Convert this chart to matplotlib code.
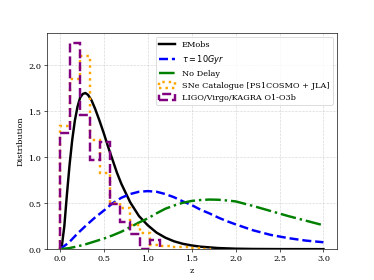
import numpy as np
import matplotlib
matplotlib.use("Agg")
import matplotlib.pyplot as plt

plt.rcParams['font.family'] = ['DejaVu Serif']

# Curves
z_em = [0, 0.02, 0.05, 0.08, 0.11, 0.14, 0.17, 0.2, 0.23, 0.26, 0.29, 0.32, 0.36, 0.4, 0.45,
        0.5, 0.55, 0.6, 0.65, 0.7, 0.8, 0.9, 1.0, 1.1, 1.2, 1.3, 1.4, 1.5, 1.6, 1.8, 2.0,
        2.2, 2.5, 3.0]
emobs = [0, 0.02, 0.25, 0.6, 0.92, 1.19, 1.40, 1.55, 1.65, 1.69, 1.70, 1.68, 1.62, 1.53, 1.40,
         1.26, 1.11, 0.97, 0.83, 0.71, 0.51, 0.36, 0.26, 0.18, 0.125, 0.085, 0.058, 0.04, 0.027,
         0.012, 0.005, 0.002, 0.0005, 0.0]

z_grid = [0, 0.1, 0.2, 0.3, 0.4, 0.5, 0.6, 0.7, 0.8, 0.9, 1.0, 1.1, 1.2, 1.3, 1.4, 1.5,
          1.6, 1.7, 1.8, 1.9, 2.0, 2.2, 2.4, 2.6, 2.8, 3.0]
tau10 = [0, 0.07, 0.17, 0.26, 0.345, 0.42, 0.50, 0.56, 0.60, 0.625, 0.632, 0.625, 0.60,
         0.565, 0.52, 0.48, 0.43, 0.39, 0.345, 0.305, 0.27, 0.205, 0.155, 0.12, 0.093, 0.075]
nodelay = [0, 0.01, 0.03, 0.055, 0.085, 0.115, 0.15, 0.19, 0.24, 0.29, 0.335, 0.39, 0.44,
           0.475, 0.505, 0.525, 0.535, 0.54, 0.538, 0.53, 0.52, 0.47, 0.415, 0.36, 0.31, 0.26]

# Histograms (bin edges and densities)
sne_edges = [0.0, 0.114, 0.229, 0.343, 0.457, 0.572, 0.686, 0.800, 0.915, 1.030, 1.144,
             1.258, 1.373, 1.487, 1.602, 1.716]
sne_density = [1.34, 1.85, 2.10, 1.19, 0.83, 0.50, 0.45, 0.26, 0.18, 0.05, 0.03, 0.02,
               0.02, 0.01, 0.005]
gw_edges = [0.0, 0.114, 0.229, 0.343, 0.457, 0.572, 0.686, 0.800, 0.915, 1.030, 1.144]
gw_density = [1.27, 2.24, 1.46, 0.97, 1.17, 0.49, 0.30, 0.17, 0.0, 0.10]

fig, ax = plt.subplots(figsize=(6.4, 4.8), dpi=58.44)

ax.plot(z_em, emobs, color='black', lw=3, label='EMobs')
ax.plot(z_grid, tau10, color='blue', lw=3, ls='--', label=r'$\tau = 10Gyr$')
ax.plot(z_grid, nodelay, color='green', lw=3, ls='-.', label='No Delay')
ax.hist(sne_edges[:-1], bins=sne_edges, weights=sne_density, histtype='step',
        color='orange', lw=3, ls=':', label='SNe Catalogue [PS1COSMO + JLA]')
ax.hist(gw_edges[:-1], bins=gw_edges, weights=gw_density, histtype='step',
        color='purple', lw=3, ls='--', label='LIGO/Virgo/KAGRA O1-O3b')

ax.set_xlim(-0.15, 3.15)
ax.set_ylim(bottom=0)
ax.set_xlabel('z')
ax.set_ylabel('Distribution')
ax.grid(True, ls='--', alpha=0.5)
ax.legend(loc='upper right')

fig.savefig('out.png', dpi=58.44)
